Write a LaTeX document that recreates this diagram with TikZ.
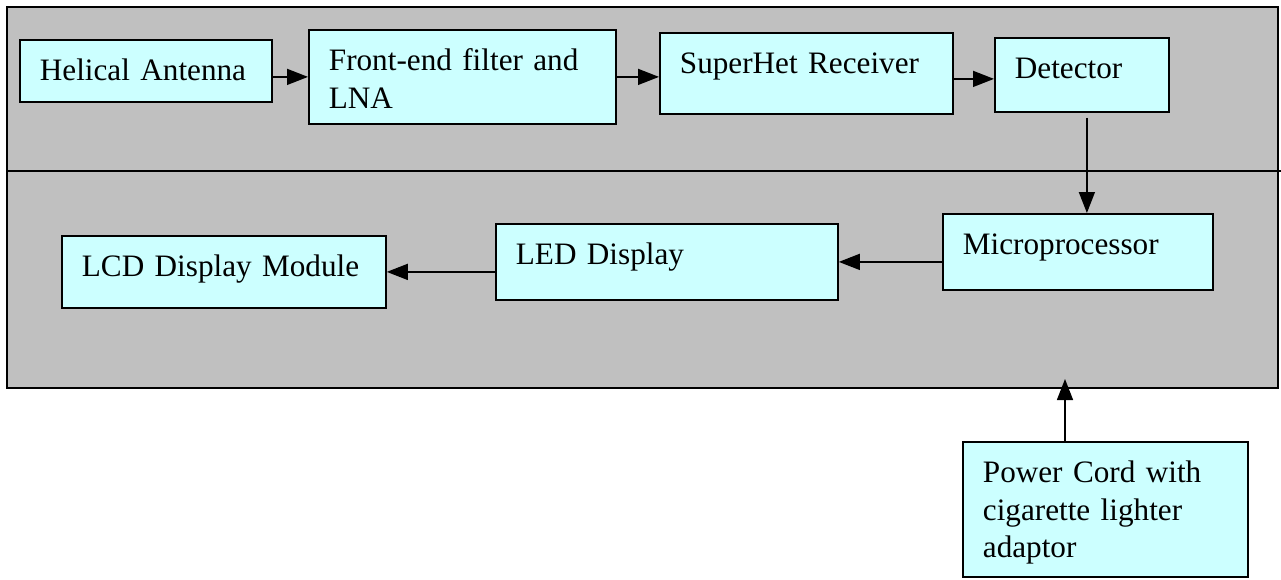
\documentclass[tikz,border=0pt]{standalone}
\usepackage{fontspec}
\setmainfont{Liberation Serif}
\usetikzlibrary{arrows.meta}
\definecolor{panelgray}{HTML}{C0C0C0}
\definecolor{blockcyan}{HTML}{CCFFFF}
\begin{document}
\begin{tikzpicture}[x=0.5pt, y=-0.5pt,
  blk/.style 2 args={draw, line width=0.9pt, fill=blockcyan, anchor=north west,
    font=\fontsize{15.6}{18.8}\selectfont, align=left, inner xsep=10pt, inner ysep=0pt,
    text width=#1-20pt, text height=20.25pt, text depth=#2-20.25pt},
  arr/.style={-{Triangle[length=10.5pt, width=8pt]}, line width=0.75pt}]
  \useasboundingbox (0, 0) rectangle (1281, 579);

  % receiver housing, split into RF and display sections
  \node[draw, line width=1pt, fill=panelgray, anchor=north west, inner sep=0pt,
    minimum width=635.5pt, minimum height=190.5pt] (unit) at (6, 6) {};
  \draw[line width=0.9pt] (6, 171) -- (1281, 171);

  \node[blk={126pt}{31pt}] (ant) at (19, 39) {Helical Antenna};
  \node[blk={153.5pt}{47pt}] (fe) at (308, 29) {Front-end filter and\\LNA};
  \node[blk={146.5pt}{40.5pt}] (sh) at (659, 32) {SuperHet Receiver};
  \node[blk={87pt}{37pt}] (det) at (994, 37) {Detector};

  \node[blk={135pt}{38pt}] (mp) at (942, 213) {Microprocessor};
  \node[blk={171pt}{38pt}] (led) at (495, 223) {LED Display};
  \node[blk={162pt}{36pt}] (lcd) at (61, 235) {LCD Display Module};

  \node[blk={142.5pt}{67.5pt}] (pwr) at (962, 441) {Power Cord with\\cigarette lighter\\adaptor};
  \coordinate (feed) at (1065, 379);

  \draw[arr] (ant.east |- fe.west) -- (fe.west);
  \draw[arr] (fe.east) -- (fe.east -| sh.west);
  \draw[arr] ([yshift=-2pt]det.west -| sh.east) -- ([yshift=-2pt]det.west);
  \draw[arr] ([xshift=2.5pt, yshift=-2.5pt]det.south) -- ([xshift=2.5pt]det.south |- mp.north);
  \draw[arr] (mp.west |- led.east) -- (led.east);
  \draw[arr] (led.west |- lcd.east) -- (lcd.east);
  \draw[arr] (pwr.north -| feed) -- (feed);
\end{tikzpicture}
\end{document}
